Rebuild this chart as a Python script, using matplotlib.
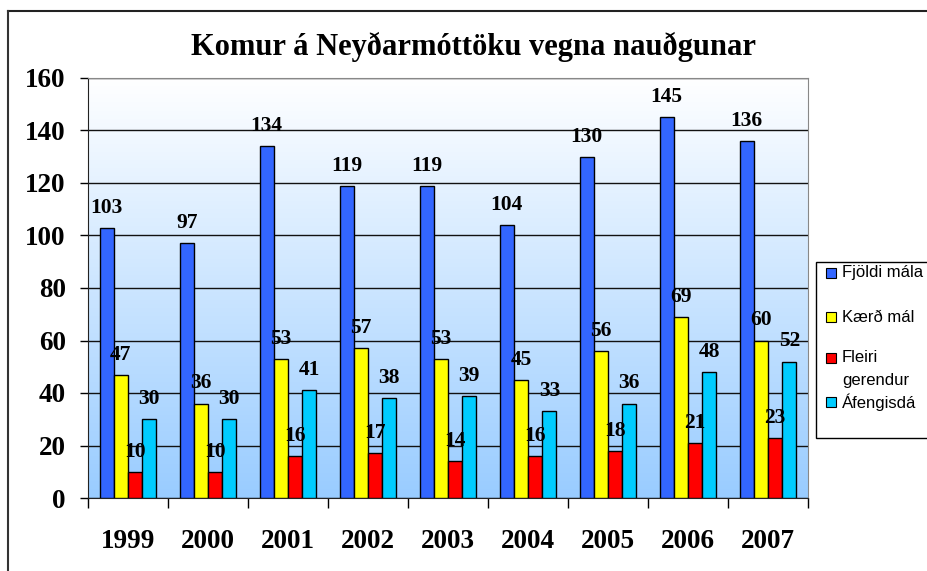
import numpy as np
import matplotlib
matplotlib.use("Agg")
import matplotlib.pyplot as plt
from matplotlib.patches import Rectangle
from matplotlib.lines import Line2D

years = ["1999", "2000", "2001", "2002", "2003", "2004", "2005", "2006", "2007"]
fjoldi_mala = [103, 97, 134, 119, 119, 104, 130, 145, 136]
kaerd_mal = [47, 36, 53, 57, 53, 45, 56, 69, 60]
fleiri_gerendur = [10, 10, 16, 17, 14, 16, 18, 21, 23]
afengisda = [30, 30, 41, 38, 39, 33, 36, 48, 52]
series_names = ["Fjöldi mála", "Kærð mál", "Fleiri\ngerendur", "Áfengisdá"]
series_colors = ["#3366FF", "#FFFF00", "#FF0000", "#00CCFF"]
title = "Komur á Neyðarmóttöku vegna nauðgunar"

W, H = 928, 571
serif = ["Liberation Serif", "DejaVu Serif"]
sans = ["Liberation Sans", "DejaVu Sans"]


def fx(x):
    return x / W


def fy(y):
    return 1 - y / H


fig = plt.figure(figsize=(W / 100, H / 100), dpi=100)
fig.patch.set_facecolor("white")

# outer chart frame (runs off the right and bottom of the picture)
fig.add_artist(Line2D([fx(8), fx(930)], [fy(11), fy(11)], color="#222222", lw=1.5))
fig.add_artist(Line2D([fx(8), fx(8)], [fy(11), fy(575)], color="#333333", lw=1.5))

ax = fig.add_axes([fx(88), fy(498), fx(808) - fx(88), fy(78) - fy(498)])

# gradient plot area
grad = np.linspace(0, 1, 256)[:, None]
top = np.array([1.0, 1.0, 1.0])
bot = np.array([0x99, 0xCC, 0xFF]) / 255
img = top[None, None, :] * (1 - grad[:, :, None]) + bot[None, None, :] * grad[:, :, None]
ax.imshow(img, extent=[-0.5, 8.5, 0, 160], aspect="auto", zorder=0, origin="upper")

x = np.arange(len(years))
w = 0.178
all_series = [fjoldi_mala, kaerd_mal, fleiri_gerendur, afengisda]
for k, (vals, col) in enumerate(zip(all_series, series_colors)):
    pos = x + (k - 1.5) * w
    ax.bar(pos, vals, width=w, color=col, edgecolor="black", linewidth=1, zorder=3)
    for p, v in zip(pos, vals):
        ax.annotate(str(v), (p, v), xytext=(0, 14.4), textcoords="offset points",
                    ha="center", va="center", fontsize=15.5, fontweight="bold",
                    family=serif, zorder=5)

ax.set_xlim(-0.5, 8.5)
ax.set_ylim(0, 160)
ax.set_yticks(range(0, 161, 20))
ax.yaxis.grid(True, color="#111111", lw=1)
ax.set_axisbelow(True)
for t in ax.get_yticklabels():
    t.set_fontfamily(serif)
    t.set_fontweight("bold")
    t.set_fontsize(19.5)
ax.tick_params(axis="y", length=6, width=1, pad=10, colors="black")

ax.set_xticks(x)
ax.set_xticklabels(years, fontsize=19.5, fontweight="bold", family=serif)
ax.set_xticks(np.arange(-0.5, 9, 1), minor=True)
ax.tick_params(axis="x", which="major", length=0, pad=22)
ax.tick_params(axis="x", which="minor", length=7, width=1)

ax.spines["left"].set_color("#222222")
ax.spines["bottom"].set_color("#222222")
ax.spines["top"].set_color("#888888")
ax.spines["right"].set_color("#888888")

fig.text(fx(474), fy(47), title, ha="center", va="center", fontsize=22,
         fontweight="bold", family=serif)

# legend box (cut off at the right edge)
fig.add_artist(Rectangle((fx(816), fy(438)), fx(300), fy(262) - fy(438),
                         transform=fig.transFigure, facecolor="white",
                         edgecolor="black", lw=1))
entry_y = [273, 317, 358, 402]
for name, col, ey in zip(series_names, series_colors, entry_y):
    fig.add_artist(Rectangle((fx(826), fy(ey + 5)), fx(10), fy(ey - 5) - fy(ey + 5),
                             transform=fig.transFigure, facecolor=col,
                             edgecolor="black", lw=0.8))
    for j, line in enumerate(name.split("\n")):
        fig.text(fx(842), fy(ey + 22 * j), line, ha="left", va="center",
                 fontsize=12, family=sans)

fig.savefig("out.png", dpi=100)
